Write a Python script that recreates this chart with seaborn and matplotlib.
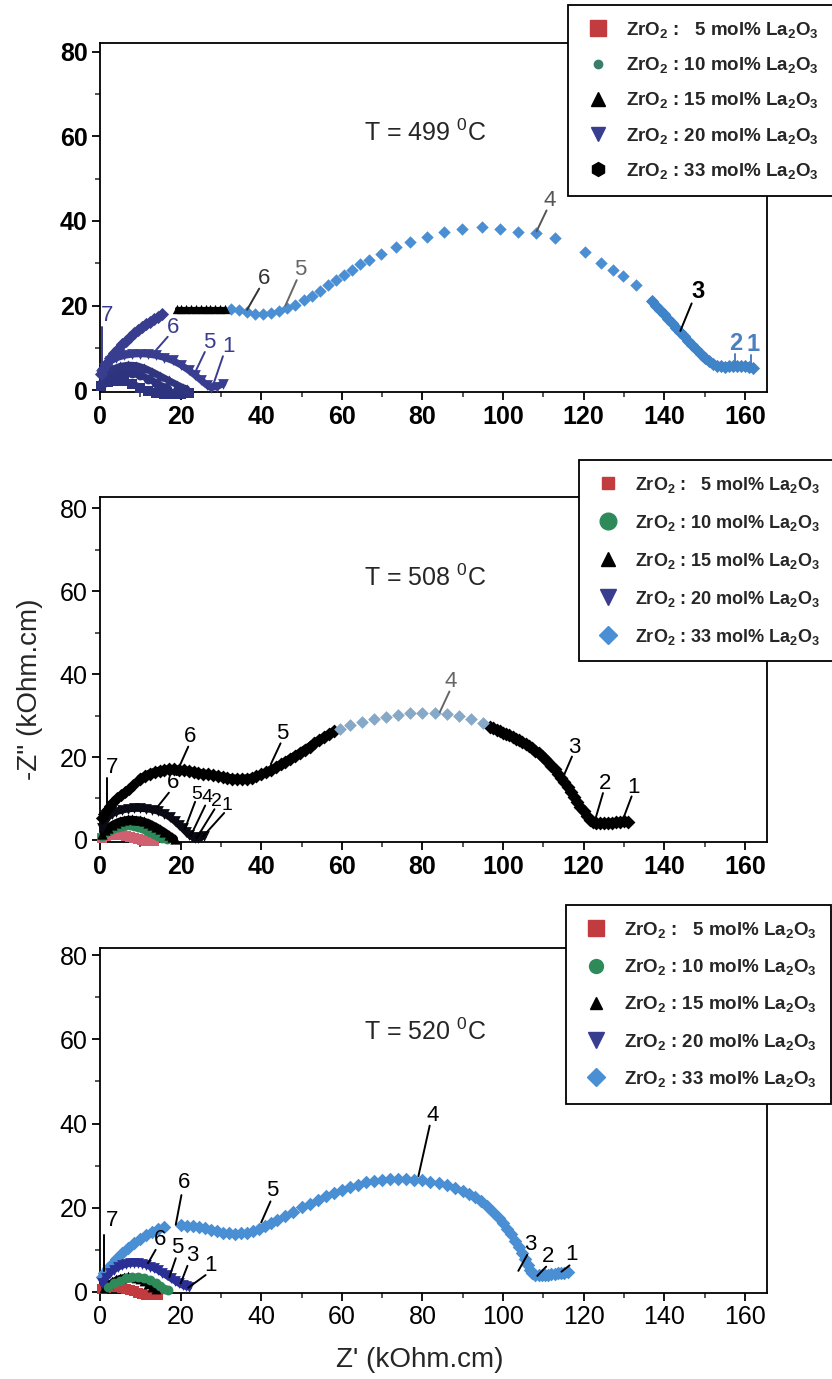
import matplotlib
matplotlib.use("Agg")
import matplotlib.pyplot as plt
import seaborn as sns
from matplotlib.lines import Line2D
from matplotlib.ticker import MultipleLocator

# ---------------- data (Z' , -Z'' in kOhm.cm) ----------------
series_labels = ["5", "10", "15", "20", "33"]
x_ticks = [0, 20, 40, 60, 80, 100, 120, 140, 160]
y_ticks = [0, 20, 40, 60, 80]
temps = ["499", "508", "520"]

# ---- T = 499 C ----
p1_33_thick_x = [162, 161, 160, 159, 158, 157, 156, 155, 154, 153, 152, 151, 150, 149, 148, 147, 146,
                 145, 144, 143, 142, 141, 140, 139, 138, 137]
p1_33_thick_y = [5.3, 5.5, 5.7, 5.6, 5.8, 5.7, 5.6, 5.5, 5.6, 5.8, 6.2, 6.8, 7.5, 8.5, 9.6, 10.6, 11.6,
                 12.7, 13.7, 14.8, 15.8, 16.8, 17.9, 18.9, 20.0, 21.0]
p1_33_x = [133.1, 129.8, 127.3, 124.4, 120.3, 112.9, 108.3, 103.8, 99.3, 94.7, 89.9, 85.4, 81.1, 77.0,
           73.5, 69.7, 66.7, 64.5, 62.5, 60.5, 58.5, 56.5, 54.5, 52.5, 50.5, 48.5, 46.5, 44.5, 42.5,
           40.5, 38.5, 36.5, 34.5, 32.5]
p1_33_y = [24.9, 27.0, 28.4, 30.0, 32.7, 35.9, 37.1, 37.5, 38.2, 38.5, 38.0, 37.3, 36.3, 35.1,
           33.9, 32.3, 30.8, 29.8, 28.5, 27.3, 26.0, 24.8, 23.5, 22.3, 21.2, 20.2, 19.3, 18.6, 18.2,
           18.0, 18.1, 18.5, 18.9, 19.1]
p1_33_mid_x = [31, 29.8, 28.6, 27.4, 26.2, 25, 23.8, 22.6, 21.4, 20.2, 19]
p1_33_mid_y = [19.2, 19.2, 19.2, 19.2, 19.2, 19.2, 19.2, 19.2, 19.2, 19.2, 19.2]
p1_33_low_x = [15.5, 14.5, 13.5, 12.5, 11.5, 10.5, 9.5, 8.5, 7.5, 6.5, 5.5, 4.5, 3.5, 2.5, 1.5, 0.8, 0.3]
p1_33_low_y = [18.0, 17.4, 16.8, 16.2, 15.6, 14.9, 14.2, 13.4, 12.6, 11.7, 10.8, 9.8, 8.8, 7.6, 6.2, 5.0, 3.8]
p1_20_x = [0.3, 1, 2.5, 4, 6, 8, 10, 12, 14, 16, 18, 20, 22, 23.5, 25, 26.5, 27.5, 29, 30.5]
p1_20_y = [3.5, 5.2, 6.8, 7.6, 8.2, 8.5, 8.6, 8.5, 8.2, 7.7, 7.0, 6.0, 4.7, 3.6, 2.4, 1.2, 0.6, 0.8, 1.5]
p1_15_x = [0.3, 1.5, 3, 5, 7, 9, 11, 13, 15, 17, 19, 20.5, 21.5]
p1_15_y = [2.0, 3.8, 4.9, 5.6, 5.9, 5.8, 5.2, 4.3, 3.3, 2.3, 1.3, 0.6, 0.3]
p1_10_x = [0.3, 2, 4, 6, 8, 10, 12, 14, 15.5, 16.5]
p1_10_y = [1.5, 3.0, 3.8, 4.1, 4.0, 3.5, 2.7, 1.7, 0.8, 0.3]
p1_5_x = [0.3, 2, 4, 6, 8, 10, 12, 14, 16, 18, 20, 22]
p1_5_y = [1.0, 1.8, 2.2, 2.1, 1.5, 0.6, -0.3, -0.8, -1.0, -1.0, -0.9, -0.8]

# ---- T = 508 C ----
p2_33_hi_x = [131, 130, 129, 128, 127, 126, 125, 124, 123, 122.3, 121.6, 120.8, 120, 119.2, 118.4, 117.6,
              116.8, 116, 115.2, 114.4, 113.6, 112.8, 112, 111.2, 110.4, 109.6, 108.8, 108, 107.2, 106.4,
              105.6, 104.8, 104, 103.2, 102.4, 101.6, 100.8, 100, 99.2, 98.4, 97.6, 96.8]
p2_33_hi_y = [4.4, 4.5, 4.4, 4.3, 4.2, 4.1, 4.1, 4.0, 4.1, 4.3, 4.9, 5.8, 6.9, 8.0, 9.2, 10.4,
              11.6, 12.8, 13.9, 15.0, 16.0, 17.0, 17.9, 18.7, 19.5, 20.2, 20.9, 21.5, 22.1, 22.6,
              23.1, 23.6, 24.0, 24.4, 24.8, 25.2, 25.5, 25.8, 26.2, 26.6, 27.0, 27.3]
p2_33_top_x = [95, 92, 89, 86, 83, 80, 77, 74, 71, 68, 65, 62, 59.5]
p2_33_top_y = [28.3, 29.2, 29.9, 30.4, 30.6, 30.6, 30.5, 30.2, 29.7, 29.1, 28.4, 27.6, 26.8]
p2_33_lo_x = [58, 56.8, 55.6, 54.4, 53.2, 52, 50.8, 49.6, 48.4, 47.2, 46, 44.8, 43.6, 42.4, 41.2, 40,
              38.8, 37.6, 36.4, 35.2, 34, 32.8, 31.6, 30.4, 29.2, 28, 26.8, 25.6, 24.4, 23.2, 22, 20.8,
              19.6, 18.4, 17.2, 16, 14.8, 13.6, 12.4, 11.2, 10]
p2_33_lo_y = [26.2, 25.5, 24.8, 24.1, 23.3, 22.5, 21.8, 21.0, 20.3, 19.6, 18.9, 18.2, 17.5, 16.9, 16.3, 15.8,
              15.3, 15.0, 14.8, 14.7, 14.7, 14.8, 15.0, 15.2, 15.4, 15.6, 15.8, 16.0, 16.2, 16.4, 16.6, 16.8,
              16.9, 17.0, 17.0, 16.9, 16.7, 16.4, 16.0, 15.4, 14.8]
p2_33_tail_x = [8.2, 7.2, 6.2, 5.2, 4.3]
p2_33_tail_y = [13.2, 12.4, 11.6, 10.8, 10.2]
p2_33_end_x = [3.2, 2.4, 1.7, 1.1, 0.6]
p2_33_end_y = [9.2, 8.3, 7.3, 6.3, 5.2]
p2_20_x = [0.5, 1.2, 2, 3, 4, 5.5, 7, 8.5, 10, 11.5, 13, 14.5, 16, 17.3, 18.5, 19.5, 20.5, 21.3, 22,
           22.8, 23.5, 24.3, 25, 25.7]
p2_20_y = [3.0, 4.4, 5.5, 6.3, 6.8, 7.2, 7.5, 7.6, 7.6, 7.5, 7.3, 6.9, 6.3, 5.5, 4.6, 3.7, 2.8, 2.0, 1.3,
           0.8, 0.4, 0.4, 0.6, 1.0]
p2_15_x = [0.5, 1.2, 2, 3, 4, 5, 6, 7, 8, 9, 10, 11, 12, 13, 14, 15, 16, 17, 17.8, 18.5]
p2_15_y = [1.5, 2.3, 3.0, 3.7, 4.2, 4.6, 4.8, 5.0, 5.0, 4.9, 4.8, 4.5, 4.2, 3.7, 3.2, 2.6, 2.0, 1.3, 0.8, 0.3]
p2_10_x = [0.5, 1.5, 2.5, 3.5, 4.5, 5.5, 6.5, 7.5, 8.5, 9.5, 10.5, 11.5, 12.5, 13.5, 14.5, 15.5, 16.5]
p2_10_y = [1.0, 1.8, 2.4, 2.9, 3.2, 3.4, 3.5, 3.5, 3.4, 3.1, 2.8, 2.4, 1.9, 1.4, 0.9, 0.5, 0.2]
p2_5_x = [0.5, 1.5, 2.5, 3.5, 4.5, 5.5, 6.5, 7.5, 8.5, 9.5, 10.5, 11.5, 12.5, 13.5]
p2_5_y = [0.5, 0.9, 1.2, 1.3, 1.3, 1.2, 1.0, 0.8, 0.5, 0.3, 0.0, -0.2, -0.3, -0.3]

# ---- T = 520 C ----
p3_33_x = [116, 115.2, 114.4, 113.6, 112.8, 112, 111.2, 110.4, 109.6, 108.8, 108, 107.3, 106.7, 106.1,
           105.5, 104.8, 104, 103, 102, 101, 100, 99, 97.5, 96, 94.5, 93, 91.5, 90, 88, 86, 84, 82,
           80, 78, 76, 74, 72, 70, 68, 66, 64, 62, 60, 58, 56, 54, 52, 50, 48, 46, 44, 42.5, 41,
           39.5, 38, 36.5, 35, 33.5, 32, 30.5, 29, 27.5, 26, 24.5, 23, 21.5, 20]
p3_33_y = [4.8, 4.6, 4.5, 4.4, 4.3, 4.2, 4.1, 4.0, 3.9, 3.9, 4.0, 4.4, 5.3, 6.5,
           7.8, 9.2, 10.6, 12.2, 13.7, 15.0, 16.3, 17.5, 19.1, 20.4, 21.6, 22.5, 23.3, 24.0, 24.7, 25.3,
           25.8, 26.2, 26.5, 26.7, 26.8, 26.9, 26.8, 26.7, 26.4, 26.0, 25.5, 24.9, 24.2, 23.5, 22.7,
           21.9, 21.0, 20.1, 19.1, 18.1, 17.1, 16.4, 15.6, 15.0, 14.5, 14.1, 13.9, 13.8, 13.9, 14.1,
           14.4, 14.8, 15.1, 15.4, 15.6, 15.7, 15.8]
p3_33_low_x = [16, 14.5, 13, 11.5, 10, 8.5, 7, 5.5, 4, 3, 2, 1, 0.4]
p3_33_low_y = [15.5, 15.0, 14.3, 13.5, 12.6, 11.6, 10.4, 9.2, 7.8, 6.7, 5.6, 4.5, 3.5]
p3_20_x = [0.5, 1.5, 2.5, 3.5, 4.5, 5.5, 6.5, 7.5, 8.5, 9.5, 10.5, 11.5, 12.5, 13.5, 14.5, 15.5, 16.5,
           17.5, 18.5, 19.5, 20.5, 21.3, 22]
p3_20_y = [2.1, 3.4, 4.5, 5.3, 5.9, 6.3, 6.6, 6.8, 6.8, 6.8, 6.7, 6.4, 6.0, 5.6, 5.1, 4.5, 3.9, 3.3,
           2.7, 2.1, 1.6, 1.3, 1.2]
p3_15_x = [1, 2, 3, 4, 5, 6, 7, 8, 9, 10, 11, 12, 13, 14]
p3_15_y = [1.0, 1.8, 2.5, 3.0, 3.4, 3.6, 3.7, 3.6, 3.4, 3.0, 2.5, 1.9, 1.2, 0.6]
p3_10_x = [2, 3.5, 5, 6.5, 8, 9.5, 11, 12.5, 14, 15, 16, 16.8]
p3_10_y = [1.2, 2.0, 2.7, 3.2, 3.5, 3.5, 3.3, 2.8, 2.0, 1.4, 0.8, 0.4]
p3_5_x = [0.5, 1.5, 2.5, 3.5, 4.5, 5.5, 6.5, 7.5, 8.5, 9.5, 10.5, 11.5, 12.5, 13.5, 14.5]
p3_5_y = [0.6, 1.0, 1.2, 1.3, 1.2, 1.0, 0.7, 0.4, 0.1, -0.2, -0.5, -0.7, -0.8, -0.8, -0.7]

# ---------------- styling ----------------
sns.set_style("ticks")
plt.rcParams["font.family"] = ["Liberation Sans", "DejaVu Sans"]
plt.rcParams["mathtext.fontset"] = "custom"
plt.rcParams["mathtext.rm"] = "Liberation Sans"
plt.rcParams["mathtext.bf"] = "Liberation Sans:bold"
plt.rcParams["mathtext.it"] = "Liberation Sans:italic"

RED, GREEN, BLACK, NAVY = "#c23b3f", "#2f8a5a", "#000000", "#383d8f"
BLUE, LBLUE = "#4a8fd4", "#86a9c8"

fig = plt.figure(figsize=(8.32, 13.79), dpi=100)
ax_rects = [(0.1202, 0.7157, 0.8017, 0.2531),
            (0.1202, 0.3894, 0.8017, 0.2502),
            (0.1202, 0.0624, 0.8017, 0.2501)]
ylims = [(-0.47, 82.1), (-0.5, 82.7), (-0.25, 81.7)]
axes = [fig.add_axes(r) for r in ax_rects]


def pts(ax, x, y, marker, color, s, lw=0.0):
    if lw > 0:
        sns.lineplot(x=x, y=y, sort=False, estimator=None, color=color, lw=lw,
                     ax=ax, legend=False, zorder=3, solid_capstyle="round")
    sns.scatterplot(x=x, y=y, marker=marker, color=color, s=s, linewidth=0,
                    ax=ax, legend=False, zorder=3)


def label(ax, items, size=16, weight="normal"):
    for txt, tx, ty, x0, y0, x1, y1, col in items:
        ax.plot([x0, x1], [y0, y1], color=col, lw=1.4, zorder=4, clip_on=False)
        ax.text(tx, ty, txt, color=col, fontsize=size, weight=weight,
                ha="center", va="bottom", zorder=5)


# panel 1
a = axes[0]
pts(a, p1_5_x, p1_5_y, "s", "#2e3380", 50, 5)
pts(a, p1_10_x, p1_10_y, "o", "#2e3380", 50, 5)
pts(a, p1_15_x, p1_15_y, "^", "#30357f", 55, 5)
pts(a, p1_20_x, p1_20_y, "v", NAVY, 60, 5)
pts(a, p1_33_thick_x, p1_33_thick_y, "D", "#3f84c8", 45, 6)
pts(a, p1_33_x, p1_33_y, "D", BLUE, 40)
pts(a, p1_33_mid_x, p1_33_mid_y, "^", BLACK, 45, 3)
pts(a, p1_33_low_x, p1_33_low_y, "D", NAVY, 45, 5)
label(a, [("7", 1.8, 15.2, 0.5, 5.5, 0.5, 15.0, NAVY),
          ("6", 18.2, 12.3, 13.5, 9.0, 16.8, 12.6, NAVY),
          ("5", 27.0, 8.8, 23.5, 4.0, 26.0, 9.0, NAVY),
          ("1", 31.8, 7.8, 28.0, 1.0, 30.5, 8.0, NAVY),
          ("6", 40.8, 23.8, 36.5, 19.0, 39.5, 24.0, "#333333"),
          ("5", 49.8, 26.0, 46.0, 20.0, 48.8, 26.0, "#666666"),
          ("4", 111.5, 42.3, 108.3, 37.5, 110.8, 42.5, "#555555")], size=16)
label(a, [("3", 148.5, 20.5, 144.0, 14.0, 146.8, 20.5, BLACK),
          ("2", 157.8, 8.4, 157.5, 5.8, 157.5, 8.6, "#4a7fc0"),
          ("1", 162.0, 8.0, 161.5, 5.5, 161.5, 8.2, "#4a7fc0")], size=17, weight="bold")

# panel 2
a = axes[1]
pts(a, p2_5_x, p2_5_y, "s", "#d06070", 45, 4)
pts(a, p2_10_x, p2_10_y, "o", GREEN, 50, 4)
pts(a, p2_15_x, p2_15_y, "^", BLACK, 55, 5)
pts(a, p2_20_x, p2_20_y, "v", "#0a0a14", 60, 5)
pts(a, p2_33_hi_x, p2_33_hi_y, "D", BLACK, 50, 6)
pts(a, p2_33_lo_x, p2_33_lo_y, "D", BLACK, 50, 6)
pts(a, p2_33_tail_x, p2_33_tail_y, "D", BLACK, 45, 5)
pts(a, p2_33_end_x, p2_33_end_y, "D", BLACK, 45, 5)
pts(a, p2_33_top_x, p2_33_top_y, "D", LBLUE, 42)
label(a, [("7", 2.9, 15.0, 1.8, 5.0, 1.8, 15.0, BLACK),
          ("6", 22.4, 22.5, 19.5, 17.3, 21.9, 22.5, BLACK),
          ("6", 18.1, 11.2, 14.3, 8.0, 17.1, 11.4, BLACK)], size=16)
label(a, [("5", 24.0, 9.0, 21.0, 2.5, 23.6, 9.2, BLACK),
          ("4", 26.6, 8.1, 22.5, 1.0, 26.1, 8.3, BLACK),
          ("2", 29.0, 7.2, 24.0, 0.5, 28.4, 7.4, BLACK),
          ("1", 31.4, 6.3, 25.5, 0.8, 30.8, 6.5, BLACK)], size=14)
label(a, [("5", 45.2, 23.2, 42.4, 18.3, 44.8, 23.3, BLACK),
          ("4", 87.1, 35.6, 84.3, 30.8, 86.7, 35.8, "#666666"),
          ("3", 117.6, 19.8, 114.8, 14.9, 117.1, 20.1, BLACK),
          ("2", 125.2, 11.0, 122.9, 5.0, 124.8, 11.3, BLACK),
          ("1", 132.4, 10.2, 130.0, 5.6, 131.9, 10.5, BLACK)], size=16)

# panel 3
a = axes[2]
pts(a, p3_33_x, p3_33_y, "D", BLUE, 48)
pts(a, p3_33_low_x, p3_33_low_y, "D", BLUE, 48, 3)
pts(a, p3_5_x, p3_5_y, "s", RED, 45, 4)
pts(a, p3_15_x, p3_15_y, "^", BLACK, 50, 4)
pts(a, p3_10_x, p3_10_y, "o", GREEN, 50, 4)
pts(a, p3_20_x, p3_20_y, "v", "#2a2f95", 60, 5)
label(a, [("7", 3.0, 14.5, 1.0, 5.0, 1.0, 13.5, BLACK),
          ("6", 14.9, 10.0, 11.9, 6.8, 13.8, 10.0, BLACK),
          ("5", 19.2, 8.0, 17.2, 3.5, 18.8, 8.0, BLACK),
          ("3", 22.9, 6.2, 20.0, 2.0, 21.7, 6.2, BLACK),
          ("1", 27.5, 3.8, 21.9, 1.0, 26.2, 4.0, BLACK),
          ("6", 20.8, 23.5, 18.8, 16.0, 20.2, 23.0, BLACK),
          ("5", 42.8, 21.5, 40.0, 16.5, 42.3, 21.5, BLACK),
          ("4", 82.5, 39.5, 79.0, 27.5, 81.8, 39.5, BLACK),
          ("3", 106.8, 8.8, 103.8, 5.0, 106.0, 8.8, BLACK),
          ("2", 111.2, 6.0, 108.5, 3.8, 110.7, 6.0, BLACK),
          ("1", 117.0, 6.3, 114.5, 4.8, 116.5, 6.3, BLACK)], size=16)

# axes formatting
for i, a in enumerate(axes):
    for c in a.collections:
        c.set_clip_on(False)
    a.set_xlim(0, 165.5)
    a.set_ylim(*ylims[i])
    a.set_xticks(x_ticks)
    a.set_yticks(y_ticks)
    a.xaxis.set_minor_locator(MultipleLocator(10))
    a.yaxis.set_minor_locator(MultipleLocator(10))
    wt = "bold" if i == 0 else "normal"
    a.set_xticklabels([str(v) for v in x_ticks], fontsize=18, weight="bold" if i < 2 else "normal")
    a.set_yticklabels([str(v) for v in y_ticks], fontsize=18, weight=wt)
    a.tick_params(which="major", direction="out", length=6, width=1.3, pad=3, colors="black")
    a.tick_params(which="minor", direction="out", length=3.5, width=1.1)
    for sp in a.spines.values():
        sp.set_visible(True)
        sp.set_linewidth(1.3)
        sp.set_color("black")
    a.set_xlabel("")
    a.set_ylabel("")
    a.set_facecolor("white")
    a.text(80.7, [60.8, 63.1, 61.8][i], "T = " + temps[i] + r" $^\mathrm{0}$C",
           fontsize=18, ha="center", va="center")

# legends
leg_markers = [
    [("s", RED, 12), ("o", "#3a7d6a", 6), ("^", BLACK, 10), ("v", NAVY, 10), ("h", BLACK, 10)],
    [("s", RED, 9), ("o", GREEN, 12), ("^", BLACK, 10), ("v", NAVY, 11), ("D", BLUE, 9)],
    [("s", RED, 12), ("o", GREEN, 10), ("^", BLACK, 9), ("v", NAVY, 11), ("D", BLUE, 9)],
]
leg_pos = [(0.702, 1.109), (0.718, 1.107), (0.698, 1.125)]
leg_size = [13.5, 13.0, 13.5]
leg_space = [0.81, 1.0, 0.92]
texts = []
for v in series_labels:
    pad = "   " if len(v) == 1 else " "
    texts.append(r"ZrO$_\mathbf{2}$ :" + pad + v + r" mol% La$_\mathbf{2}$O$_\mathbf{3}$")
for i, a in enumerate(axes):
    handles = [Line2D([], [], marker=m, color=c, markersize=ms, linestyle="")
               for m, c, ms in leg_markers[i]]
    lg = a.legend(handles, texts, loc="upper left", bbox_to_anchor=leg_pos[i],
                  borderaxespad=0, frameon=True, fancybox=False, framealpha=1,
                  edgecolor="black", prop={"weight": "bold", "size": leg_size[i]},
                  labelspacing=leg_space[i], handletextpad=0.7, borderpad=0.8,
                  handlelength=1.6)
    lg.get_frame().set_linewidth(1.3)
    lg.set_zorder(10)

fig.text(0.036, 0.5, "-Z\" (kOhm.cm)", rotation=90, fontsize=20, ha="center", va="center")
fig.text(0.505, 0.0138, "Z' (kOhm.cm)", fontsize=20, ha="center", va="center")

fig.savefig("out.png", dpi=100, facecolor="white")
